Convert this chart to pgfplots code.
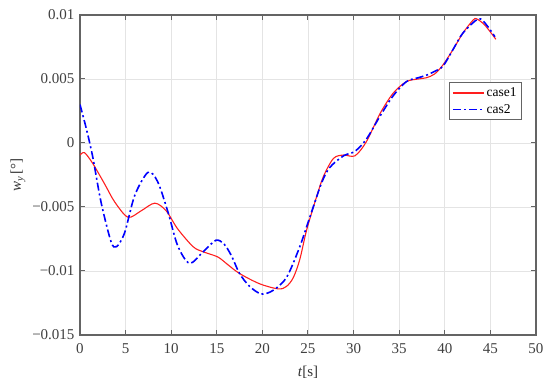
\documentclass[border=0pt]{standalone}
\usepackage{fontspec}
\setmainfont{Liberation Serif}
\usepackage{pgfplots}
\pgfplotsset{compat=1.18}

\definecolor{axgray}{RGB}{100,100,100}
\definecolor{gridgray}{RGB}{228,228,228}
\definecolor{myred}{RGB}{255,30,30}
\definecolor{myblue}{RGB}{0,0,255}

\begin{document}
\begin{tikzpicture}
\path[use as bounding box] (-80pt,-48pt) rectangle (470pt,335pt);
\begin{axis}[
    at={(0,0)}, anchor=south west,
    scale only axis,
    width=456pt, height=320pt,
    xmin=0, xmax=50,
    ymin=-0.015, ymax=0.01,
    xtick={0,5,...,50},
    xticklabels={0,5,10,15,20,25,30,35,40,45,50},
    ytick={-0.015,-0.01,-0.005,0,0.005,0.01},
    yticklabels={−0.015,−0.01,−0.005,0,0.005,0.01},
    scaled y ticks=false,
    grid=major,
    major grid style={gridgray, line width=0.8pt},
    axis line style={axgray, line width=1.6pt},
    major tick style={axgray, line width=1pt},
    major tick length=5pt,
    tick label style={font=\fontsize{15}{17}\selectfont, text=black!75},
    xticklabel style={yshift=-5pt},
    yticklabel style={xshift=-2pt},
    xlabel={\textit{t}[s]},
    ylabel={\textit{w}\textsubscript{\textit{y}}\,[°]},
    label style={font=\fontsize{15}{17}\selectfont, text=black!80},
    xlabel style={yshift=-6pt},
    ylabel style={yshift=0pt},
    legend style={at={(0.97,0.79)}, anchor=north east, draw=axgray,
        line width=1.2pt, font=\fontsize{13.5}{15}\selectfont,
        inner sep=3pt, row sep=2pt, fill=white},
    legend cell align=left,
    legend image code/.code={\draw[#1] (0pt,0pt) -- (31pt,0pt);},
]
\addplot[color=myred, line width=1.1pt, smooth,
    legend image post style={line width=1.1pt}] coordinates {
(0,-0.00094) (0.5,-0.00076) (1.4,-0.0016) (2.7,-0.0032) (3.8,-0.0046)
(5.26,-0.0058) (6.7,-0.0053) (8.2,-0.0047) (9.45,-0.0053) (10.7,-0.0067)
(12.4,-0.0081) (13.5,-0.0085) (15.1,-0.0089) (16.2,-0.0095) (17.5,-0.0102)
(19.7,-0.0110) (21.75,-0.0114) (22.65,-0.0112) (23.4,-0.0105) (24.1,-0.0091)
(24.85,-0.0068) (25.9,-0.0043) (26.7,-0.0026) (27.8,-0.0012) (28.9,-0.00094)
(30.15,-0.0010) (31.4,0.0001) (32.9,0.0023) (34.35,0.0039) (35.8,0.0048)
(37.1,0.0050) (38.0,0.0051) (38.9,0.0054) (39.8,0.0061) (40.9,0.0073)
(42.0,0.0086) (43.1,0.0096) (43.5,0.0097) (44.4,0.0092) (45.6,0.0081)
};
\addlegendentry{case1}
\addplot[color=myblue, line width=1.6pt, smooth, dash pattern=on 8pt off 3pt on 2pt off 3pt,
    legend image post style={line width=1.6pt}] coordinates {
(0,0.0030) (0.7,0.0011) (1.4,-0.0011) (2.3,-0.0046) (3.4,-0.0077)
(4.0,-0.0081) (4.9,-0.0070) (6.0,-0.0041) (7.45,-0.0023) (8.5,-0.0030)
(9.65,-0.0054) (10.7,-0.0080) (12.0,-0.0094) (13.5,-0.0085) (14.9,-0.0076)
(15.8,-0.0079) (16.6,-0.0088) (17.5,-0.0102) (18.6,-0.0112) (19.9,-0.0118)
(21.2,-0.0115) (22.65,-0.0105) (24.1,-0.0081) (25.2,-0.0058) (26.5,-0.0031)
(27.4,-0.0019) (28.9,-0.0010) (30.15,-0.00065) (31.4,0.0003) (32.9,0.0021)
(34.35,0.0037) (35.8,0.0048) (37.1,0.0051) (38.0,0.0053) (38.9,0.0056)
(39.8,0.0060) (40.9,0.0073) (42.0,0.0086) (43.7,0.0097) (44.6,0.0092)
(45.5,0.0083)
};
\addlegendentry{cas2}
\end{axis}
\end{tikzpicture}
\end{document}
